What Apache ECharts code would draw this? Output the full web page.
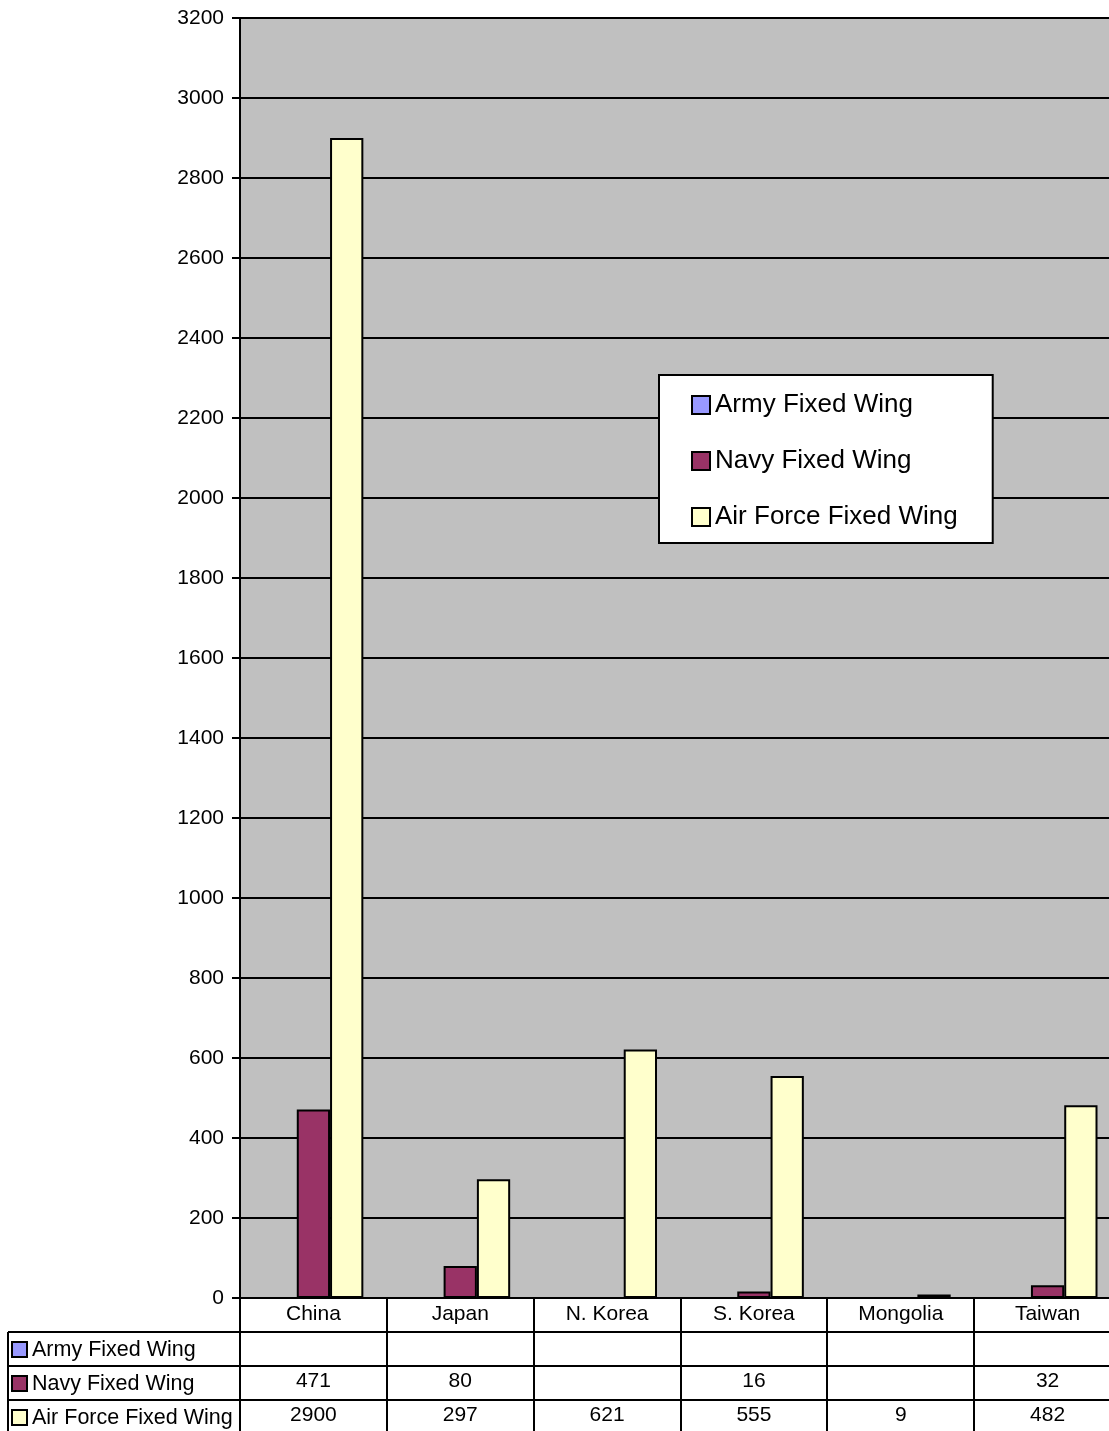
<!DOCTYPE html>
<html>
<head>
<meta charset="utf-8">
<script src="https://cdn.jsdelivr.net/npm/echarts@6/dist/echarts.min.js"></script>
<style>
  html, body { margin: 0; padding: 0; background: #fff; overflow: hidden; }
  /* plot runs a little past the right edge of the window, like the original */
  #chart { width: 1121px; height: 1431px; }
</style>
</head>
<body>
<div id="chart"></div>
<script>
const countries = ["China", "Japan", "N. Korea", "S. Korea", "Mongolia", "Taiwan"];
const armyFixedWing = [null, null, null, null, null, null];
const navyFixedWing = [471, 80, null, 16, null, 32];
const airForceFixedWing = [2900, 297, 621, 555, 9, 482];
const seriesNames = ["Army Fixed Wing", "Navy Fixed Wing", "Air Force Fixed Wing"];
const seriesColors = ["#9999FF", "#993366", "#FFFFCC"];
const yMin = 0, yMax = 3200, yStep = 200;

const FONT = "Liberation Sans, Arial, sans-serif";
const seriesData = [armyFixedWing, navyFixedWing, airForceFixedWing];

const chart = echarts.init(document.getElementById("chart"));

function makeSeries(i) {
  return {
    name: seriesNames[i],
    type: "bar",
    data: seriesData[i],
    barGap: "0%",
    barCategoryGap: "32%",
    itemStyle: { color: seriesColors[i], borderColor: "#000", borderWidth: 2 },
    emphasis: { disabled: true },
    animation: false
  };
}

chart.setOption({
  animation: false,
  textStyle: { fontFamily: FONT },
  grid: {
    left: 240, top: 18, right: 0, bottom: 133,
    show: true, backgroundColor: "#C0C0C0", borderWidth: 0
  },
  legend: {
    orient: "vertical",
    left: 659, top: 375,
    padding: [17, 35, 13, 32],
    itemGap: 30,
    itemWidth: 18, itemHeight: 18,
    icon: "rect",
    backgroundColor: "#fff",
    borderColor: "#000",
    borderWidth: 2,
    selectedMode: false,
    textStyle: { fontFamily: FONT, fontSize: 26, color: "#000" },
    data: seriesNames
  },
  xAxis: {
    type: "category",
    data: countries,
    axisLine: { lineStyle: { color: "#000", width: 2 } },
    axisTick: { show: false },
    axisLabel: { fontFamily: FONT, fontSize: 21, color: "#000", margin: 6 }
  },
  yAxis: {
    type: "value",
    min: yMin, max: yMax, interval: yStep,
    axisLine: { show: true, lineStyle: { color: "#000", width: 2 } },
    axisTick: { show: true, length: 8, lineStyle: { color: "#000", width: 2 } },
    splitLine: { lineStyle: { color: "#000", width: 2 } },
    axisLabel: { fontFamily: FONT, fontSize: 21, color: "#000", margin: 16,
      formatter: function (v) { return String(v); } }
  },
  series: [0, 1, 2].map(makeSeries)
});

// data table under the plot
const rowTops = [1332, 1366, 1400];
const rowH = 34;
const gfx = [];
const line = function (x1, y1, x2, y2) {
  gfx.push({ type: "line", shape: { x1: x1, y1: y1, x2: x2, y2: y2 },
    style: { stroke: "#000", lineWidth: 2 }, silent: true });
};
rowTops.forEach(function (y) { line(8, y, 1121, y); });
line(8, 1332, 8, 1431);

// column separators at category boundaries, from the axis scale
const c0 = chart.convertToPixel({ xAxisIndex: 0 }, 0);
const c1 = chart.convertToPixel({ xAxisIndex: 0 }, 1);
const band = c1 - c0;
for (let j = 0; j <= countries.length; j++) {
  const bx = chart.convertToPixel({ xAxisIndex: 0 }, Math.min(j, countries.length - 1)) + (j < countries.length ? -band / 2 : band / 2);
  line(Math.round(bx), 1298, Math.round(bx), 1431);
}

seriesNames.forEach(function (name, i) {
  const cy = rowTops[i] + rowH / 2;
  gfx.push({ type: "rect", shape: { x: 12, y: cy - 7, width: 15, height: 15 },
    style: { fill: seriesColors[i], stroke: "#000", lineWidth: 2 }, silent: true });
  gfx.push({ type: "text", x: 32, y: cy + 1,
    style: { text: name, font: "21.5px " + FONT, fill: "#000", textVerticalAlign: "middle" }, silent: true });
  seriesData[i].forEach(function (v, j) {
    if (v === null) return;
    const px = chart.convertToPixel({ xAxisIndex: 0 }, j);
    gfx.push({ type: "text", x: px, y: cy - 2,
      style: { text: String(v), font: "21px " + FONT, fill: "#000", textAlign: "center", textVerticalAlign: "middle" }, silent: true });
  });
});

chart.setOption({ graphic: gfx });
</script>
</body>
</html>
